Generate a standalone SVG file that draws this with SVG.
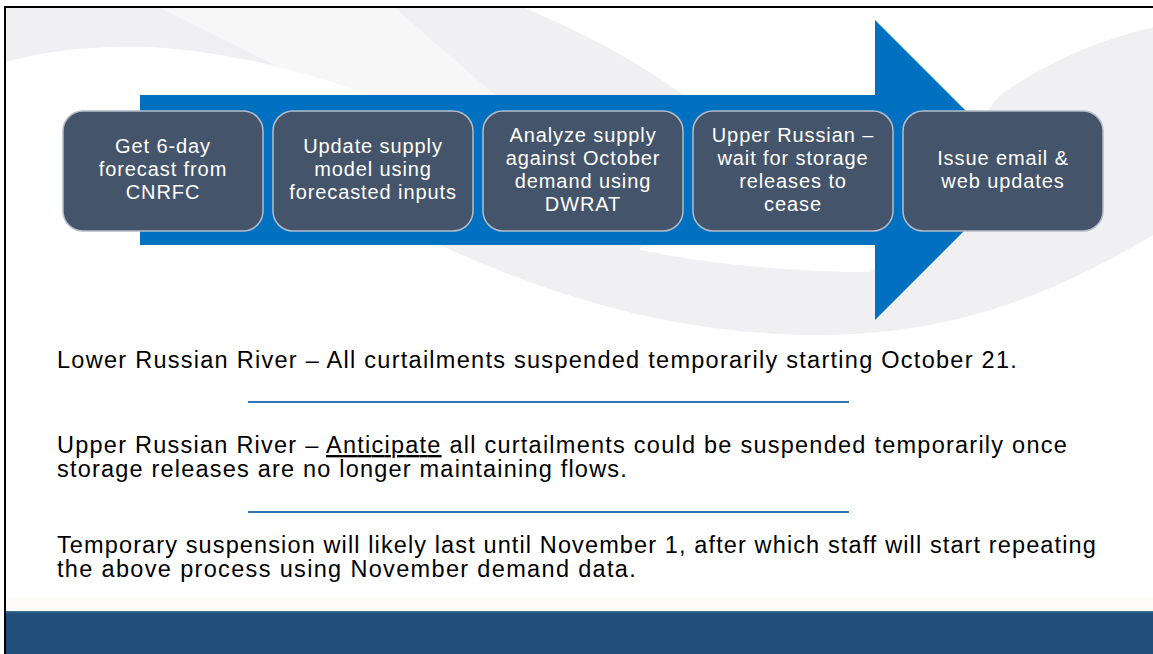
<svg xmlns="http://www.w3.org/2000/svg" width="1153" height="654" viewBox="0 0 1153 654">
<style>
.box{fill:#44546A;stroke:#B4BCC8;stroke-width:1.5}
.bt{font-family:"Liberation Sans",Arial,sans-serif;font-size:20px;fill:#FFFFFF;text-anchor:middle;letter-spacing:0.9px}
.body{font-family:"Liberation Sans",Arial,sans-serif;font-size:23.5px;fill:#000000;letter-spacing:1.2px}
.sep{stroke:#2E75B6;stroke-width:2}
</style>
<rect x="0" y="0" width="1153" height="654" fill="#FFFFFF"/>
<g id="background">
<path d="M5,8 L525,8 C600,40 650,70 690,100 L640,250 C700,262 780,272 870,272 C930,230 960,140 1000,95 C1050,60 1100,40 1153,27 L1153,235 C1060,290 960,335 820,335 C680,335 560,300 440,245 L370,95 C300,70 230,52 150,47 C90,45 40,52 5,62 Z" fill="#F0F0F3"/>
<path d="M160,8 L395,8 L495,95 L335,95 Z" fill="#FFFFFF" opacity="0.45"/>
<rect x="5" y="598" width="1148" height="13" fill="#FDFCF8"/>
<rect x="5" y="611" width="1148" height="43" fill="#1F4E79"/>
<rect x="5" y="611" width="1148" height="1.5" fill="#3E6E90"/>
<line x1="4" y1="7" x2="1153" y2="7" stroke="#000000" stroke-width="2"/>
<line x1="5" y1="6" x2="5" y2="654" stroke="#000000" stroke-width="2"/>
</g>
<g id="arrow">
<path d="M140,95 L875,95 L875,20 L1025,170 L875,320 L875,245 L140,245 Z" fill="#0070C0"/>
</g>
<g id="step1">
<rect class="box" x="63" y="111" width="200" height="120" rx="20"/>
<text class="bt" x="163" y="153">Get 6-day</text>
<text class="bt" x="163" y="176">forecast from</text>
<text class="bt" x="163" y="199">CNRFC</text>
</g>
<g id="step2">
<rect class="box" x="273" y="111" width="200" height="120" rx="20"/>
<text class="bt" x="373" y="153">Update  supply</text>
<text class="bt" x="373" y="176">model  using</text>
<text class="bt" x="373" y="199">forecasted inputs</text>
</g>
<g id="step3">
<rect class="box" x="483" y="111" width="200" height="120" rx="20"/>
<text class="bt" x="583" y="142">Analyze supply</text>
<text class="bt" x="583" y="165">against October</text>
<text class="bt" x="583" y="188">demand  using</text>
<text class="bt" x="583" y="211">DWRAT</text>
</g>
<g id="step4">
<rect class="box" x="693" y="111" width="200" height="120" rx="20"/>
<text class="bt" x="793" y="142">Upper Russian –</text>
<text class="bt" x="793" y="165">wait for storage</text>
<text class="bt" x="793" y="188">releases to</text>
<text class="bt" x="793" y="211">cease</text>
</g>
<g id="step5">
<rect class="box" x="903" y="111" width="200" height="120" rx="20"/>
<text class="bt" x="1003" y="165">Issue email  &amp;</text>
<text class="bt" x="1003" y="188">web updates</text>
</g>
<g id="connectors"></g>
<g id="notes">
<text class="body" x="57" y="368" textLength="961" lengthAdjust="spacing">Lower Russian River – All curtailments suspended temporarily starting October 21.</text>
<line class="sep" x1="248" y1="402" x2="849" y2="402"/>
<text class="body" x="57" y="453" textLength="1011" lengthAdjust="spacing">Upper Russian River – <tspan text-decoration="underline">Anticipate</tspan> all curtailments could be suspended temporarily once</text>
<text class="body" x="57" y="477" textLength="571" lengthAdjust="spacing">storage releases are no longer maintaining flows.</text>
<line class="sep" x1="248" y1="512" x2="849" y2="512"/>
<text class="body" x="57" y="553" textLength="1040" lengthAdjust="spacing">Temporary suspension will likely last until November 1, after which staff will start repeating</text>
<text class="body" x="57" y="577" textLength="580" lengthAdjust="spacing">the above process using November demand data.</text>
</g>
</svg>
